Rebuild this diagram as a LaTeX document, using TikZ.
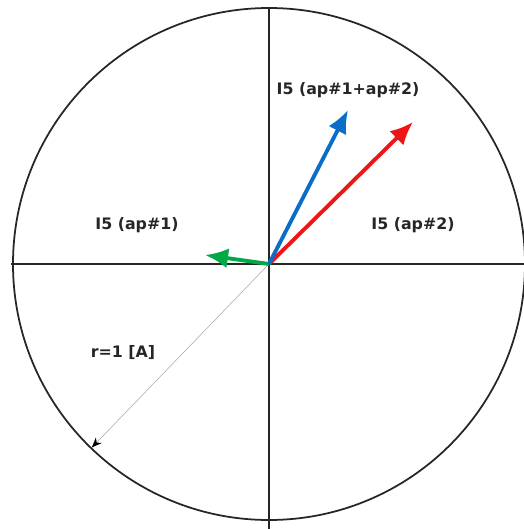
\documentclass[tikz,border=0pt]{standalone}
\usepackage{fontspec}
\setsansfont{DejaVu Sans}
\usetikzlibrary{arrows.meta,positioning,calc}
\definecolor{apone}{RGB}{0,168,70}
\definecolor{aptwo}{RGB}{240,20,20}
\definecolor{apsum}{RGB}{10,110,200}

\begin{document}
\begin{tikzpicture}[
  axis/.style={draw=black!85, line width=1pt},
  phasor/.style={line width=2.2pt, -{Latex[length=4.6mm, width=4mm]}},
  lbl/.style={font=\sffamily\bfseries\fontsize{9}{11}\selectfont, text=black!85},
  >=Latex
]
\useasboundingbox (-5.38,-5.30) rectangle (5.10,5.28);
\coordinate (o) at (0,0);
\draw[axis] (o) circle (5.12);
\draw[axis] (180:5.16) -- (0:5.12);
\draw[axis] (90:5.12) -- (0,-5.3);

% radius marker
\coordinate (rim) at (226:5.1);
\draw[gray!70, line width=0.3pt, -{Stealth[length=2mm, width=1.6mm, black]}] (o) -- (rim);
\node[lbl] (rlbl) at (-2.92,-1.78) {r=1 [A]};

% phasors
\coordinate (tipone) at (-1.28,0.18);
\coordinate (tiptwo) at (2.88,2.84);
\coordinate (tipsum) at (1.58,3.08);
\draw[phasor, apone] (o) -- (tipone);
\draw[phasor, aptwo] (o) -- (tiptwo);
\draw[phasor, apsum] (o) -- (tipsum);

\node[lbl] (lone) at (-2.64,0.78) {I5 (ap\#1)};
\node[lbl] (ltwo) at (2.88,0.78) {I5 (ap\#2)};
\node[lbl] (lsum) at (1.58,3.48) {I5 (ap\#1+ap\#2)};
\end{tikzpicture}
\end{document}
